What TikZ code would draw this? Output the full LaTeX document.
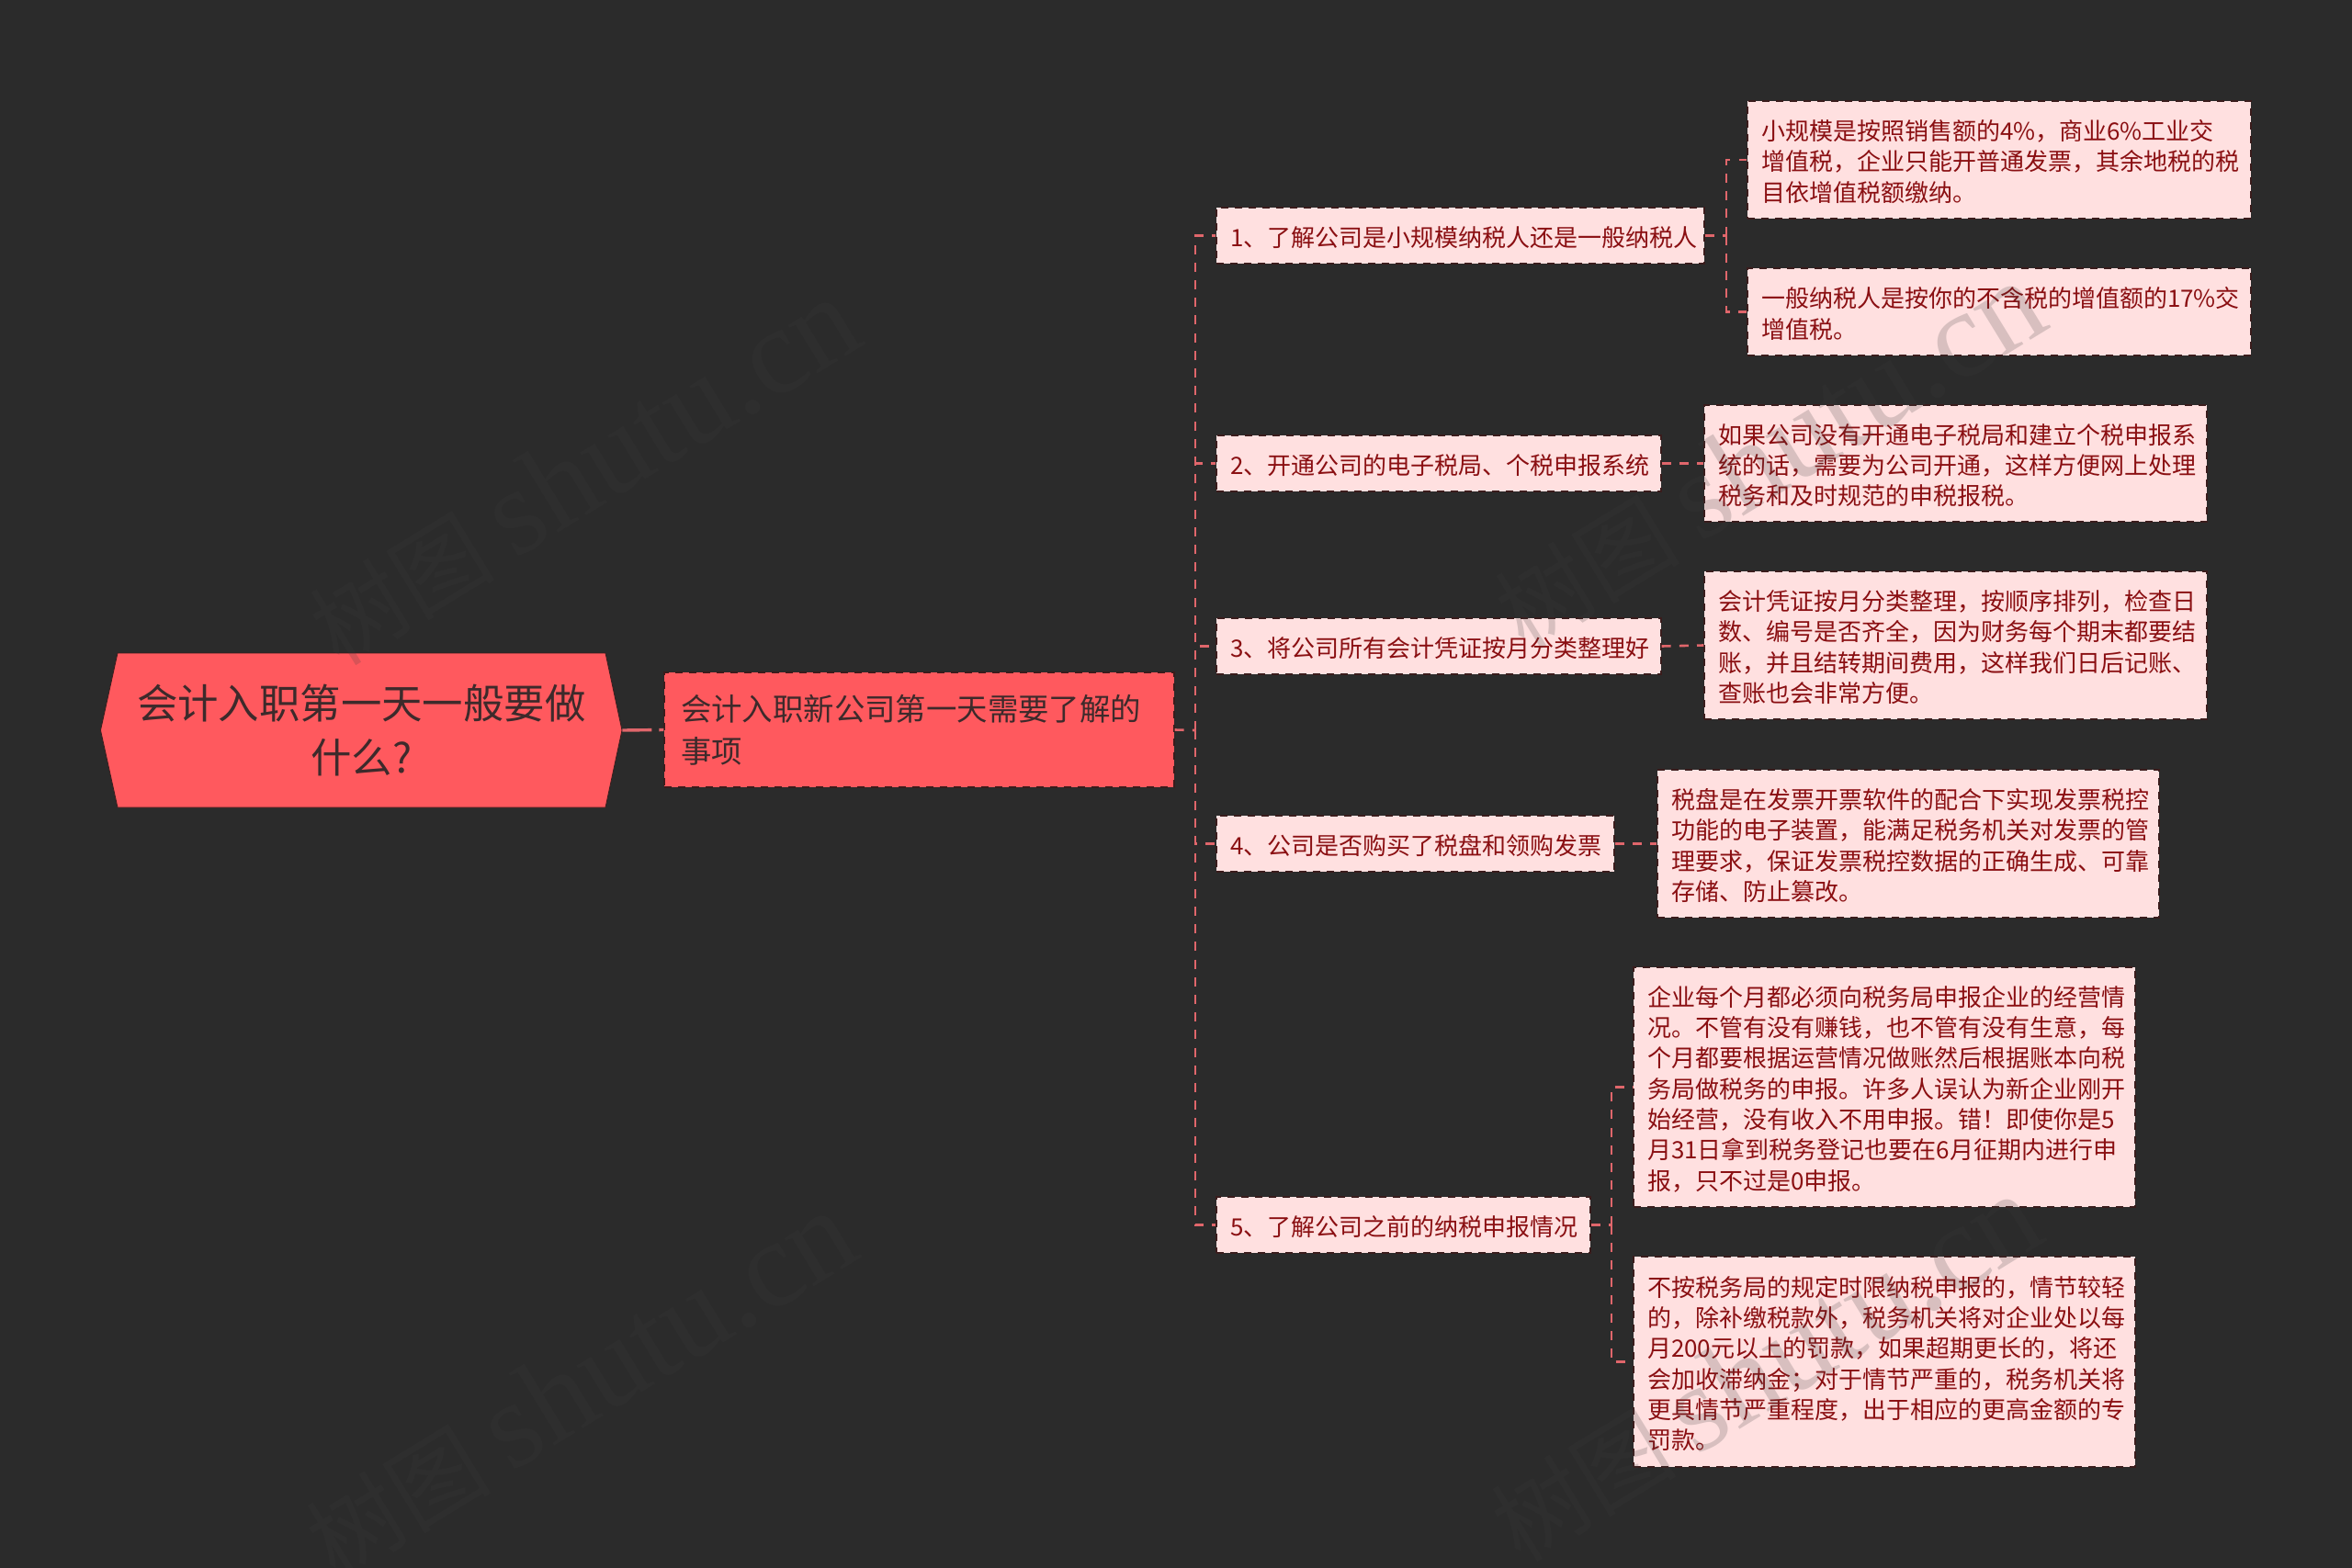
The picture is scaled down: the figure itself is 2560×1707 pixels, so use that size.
\documentclass[tikz,border=0pt]{standalone}
\usepackage{fontspec}
\setmainfont{Noto Sans CJK SC}
\newfontfamily\wmlatin{Liberation Serif}
\definecolor{bgc}{HTML}{2B2B2B}
\definecolor{rootc}{HTML}{FF595E}
\definecolor{rootink}{HTML}{3D2A2B}
\definecolor{leafc}{HTML}{FFE0E0}
\definecolor{leafink}{HTML}{8A0F12}
\definecolor{linkc}{HTML}{E0666B}
\definecolor{edgec}{HTML}{3A1C1C}
\definecolor{wmc}{HTML}{3C3C3C}
\tikzset{
  x=0.5pt,y=-0.5pt,
  rootbox/.style={inner xsep=0pt,inner ysep=0pt,text=rootink,align=center,font=\fontsize{22.2}{29.4}\selectfont},
  mainbox/.style={fill=rootc,draw=edgec,line width=0.7pt,dash pattern=on 4pt off 3.5pt,inner xsep=9pt,inner ysep=0pt,text=rootink,align=left,font=\fontsize{16.7}{22.9}\selectfont},
  notebox/.style={fill=leafc,draw=edgec,line width=0.6pt,dash pattern=on 4pt off 3.5pt,inner xsep=7.5pt,inner ysep=0pt,text=leafink,align=left,font=\fontsize{13}{16.65}\selectfont,execute at begin node={\rule{0pt}{13pt}}},
  link/.style={draw=linkc,line width=1.3pt,dash pattern=on 5pt off 4.6pt},
  rootlink/.style={draw=linkc,line width=1.7pt,dash pattern=on 16pt off 4pt},
  wm/.style={text=wmc,text opacity=0.2,rotate=31.5,inner sep=0pt,font=\fontsize{50.5}{50.5}\selectfont},
}
\newcommand{\bx}[7]{%
  \pgfmathsetmacro\bw{(#5-#3)/2}%
  \pgfmathsetmacro\bh{(#6-#4)/2}%
  \node[#2,minimum width=\bw pt,minimum height=\bh pt,text width=\bw pt-#1 pt] (#7) at ({(#3+#5)/2},{(#4+#6)/2})}
\begin{document}
\begin{tikzpicture}
\useasboundingbox (0,0) rectangle (2560,1707);
\fill[bgc] (0,0) rectangle (2560,1707);
% root
\fill[rootc,draw=edgec,line width=0.4pt] (128,711) -- (659,711) -- (677,795) -- (659,879) -- (128,879) -- (109.5,795) -- cycle;
\node[rootbox,minimum width=283.75pt,minimum height=84pt] (root) at (393.25,795) {会计入职第一天一般要做\\什么?};
\bx{18}{mainbox}{723}{732}{1278}{857}{main}{会计入职新公司第一天需要了解的\\事项};
\bx{15}{notebox}{1324}{226}{1855}{287}{n1}{1、了解公司是小规模纳税人还是一般纳税人};
\bx{15}{notebox}{1324}{474}{1808}{535}{n2}{2、开通公司的电子税局、个税申报系统};
\bx{15}{notebox}{1324}{673}{1808}{734}{n3}{3、将公司所有会计凭证按月分类整理好};
\bx{15}{notebox}{1324}{888}{1757}{949}{n4}{4、公司是否购买了税盘和领购发票};
\bx{15}{notebox}{1324}{1303}{1731}{1364}{n5}{5、了解公司之前的纳税申报情况};
\bx{15}{notebox}{1902}{110}{2450}{238}{a}{小规模是按照销售额的4\%，商业6\%工业交\\增值税，企业只能开普通发票，其余地税的税\\目依增值税额缴纳。};
\bx{15}{notebox}{1902}{292}{2450}{387}{b}{一般纳税人是按你的不含税的增值额的17\%交\\增值税。};
\bx{15}{notebox}{1855}{441}{2402}{568}{c}{如果公司没有开通电子税局和建立个税申报系\\统的话，需要为公司开通，这样方便网上处理\\税务和及时规范的申税报税。};
\bx{15}{notebox}{1855}{622}{2402}{783}{d}{会计凭证按月分类整理，按顺序排列，检查日\\数、编号是否齐全，因为财务每个期末都要结\\账，并且结转期间费用，这样我们日后记账、\\查账也会非常方便。};
\bx{15}{notebox}{1804}{838}{2350}{999}{e}{税盘是在发票开票软件的配合下实现发票税控\\功能的电子装置，能满足税务机关对发票的管\\理要求，保证发票税控数据的正确生成、可靠\\存储、防止篡改。};
\bx{15}{notebox}{1778}{1053}{2324}{1314}{f}{企业每个月都必须向税务局申报企业的经营情\\况。不管有没有赚钱，也不管有没有生意，每\\个月都要根据运营情况做账然后根据账本向税\\务局做税务的申报。许多人误认为新企业刚开\\始经营，没有收入不用申报。错！即使你是5\\月31日拿到税务登记也要在6月征期内进行申\\报，只不过是0申报。};
\bx{15}{notebox}{1778}{1368}{2324}{1597}{g}{不按税务局的规定时限纳税申报的，情节较轻\\的，除补缴税款外，税务机关将对企业处以每\\月200元以上的罚款，如果超期更长的，将还\\会加收滞纳金；对于情节严重的，税务机关将\\更具情节严重程度，出于相应的更高金额的专\\罚款。};
% connectors
\coordinate (trunk) at (1301,795);
\coordinate (fork1) at (1879,256.5);
\coordinate (fork5) at (1754,1333.5);
\draw[rootlink] (root.east) -- (main.west);
\draw[link] (main.east) -- (trunk);
\draw[link] (trunk) |- (n1.west);
\draw[link] (trunk) |- (n2.west);
\draw[link] (trunk) |- (n3.west);
\draw[link] (trunk) |- (n4.west);
\draw[link] (trunk) |- (n5.west);
\draw[link] (n1.east) -- (fork1);
\draw[link] (fork1) |- (a.west);
\draw[link] (fork1) |- (b.west);
\draw[link] (n2.east) -- (c.west);
\draw[link] (n3.east) -- (d.west);
\draw[link] (n4.east) -- (e.west);
\draw[link] (n5.east) -- (fork5);
\draw[link] (fork5) |- (f.west);
\draw[link] (fork5) |- (g.west);
% watermarks
\node[wm] (w1) at (635,514) {树图 {\wmlatin\fontsize{67}{67}\selectfont shutu.cn}};
\node[wm] (w2) at (1925,496) {树图 {\wmlatin\fontsize{67}{67}\selectfont shutu.cn}};
\node[wm] (w3) at (631,1508) {树图 {\wmlatin\fontsize{67}{67}\selectfont shutu.cn}};
\node[wm] (w4) at (1921,1490) {树图 {\wmlatin\fontsize{67}{67}\selectfont shutu.cn}};
\end{tikzpicture}
\end{document}
